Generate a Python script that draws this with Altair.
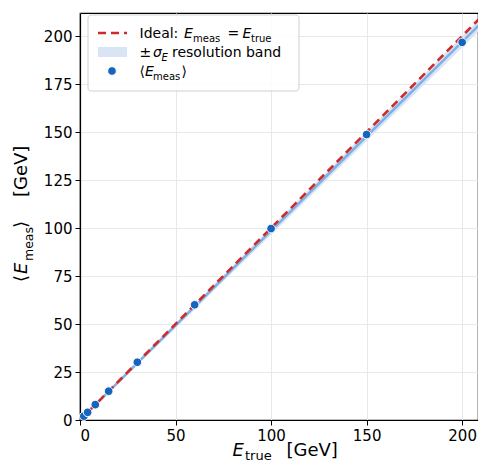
import altair as alt
import pandas as pd

# Data
e_true_pts = [2, 4, 8, 15, 30, 60, 100, 150, 200]
e_meas_pts = [2.0, 4.0, 8.0, 15.0, 30.1, 60.0, 99.7, 148.7, 196.7]

band_x = [0, 2, 4, 8, 15, 30, 60, 100, 150, 200, 212]
band_mid = [0, 1.97, 3.94, 7.88, 14.8, 29.6, 59.1, 98.5, 147.8, 197.0, 208.8]
band_lo = [0, 1.6, 3.5, 7.3, 14.0, 28.5, 57.6, 96.5, 145.3, 194.0, 205.7]
band_hi = [0, 2.35, 4.4, 8.5, 15.6, 30.7, 60.6, 100.5, 150.3, 200.0, 211.9]

ideal_x = [0, 212]
ideal_y = [0, 212]

x_ticks = [0, 50, 100, 150, 200]
y_ticks = [0, 25, 50, 75, 100, 125, 150, 175, 200]

FONT = "DejaVu Sans"
W, H = 398, 407
RED = "#d02a2a"
BAND = "#d9e5f5"
MID = "#7fb1e6"
DOT = "#1565c0"

pts = pd.DataFrame({"x": e_true_pts, "y": e_meas_pts})
band = pd.DataFrame({"x": band_x, "lo": band_lo, "hi": band_hi, "mid": band_mid})
ideal = pd.DataFrame({"x": ideal_x, "y": ideal_y})

xs = alt.Scale(domain=[0, 208.3], nice=False, zero=False)
ys = alt.Scale(domain=[0, 212], nice=False, zero=False)

xax = alt.Axis(values=x_ticks, title=None, grid=True, format="d")
yax = alt.Axis(values=y_ticks, title=None, grid=True, format="d")

band_layer = alt.Chart(band).mark_area(color=BAND, opacity=1, clip=True).encode(
    x=alt.X("x:Q", scale=xs, axis=xax),
    y=alt.Y("lo:Q", scale=ys, axis=yax),
    y2="hi:Q",
)
mid_layer = alt.Chart(band).mark_line(color=MID, strokeWidth=2.5, clip=True).encode(
    x=alt.X("x:Q", scale=xs), y=alt.Y("mid:Q", scale=ys)
)
ideal_layer = alt.Chart(ideal).mark_line(color=RED, strokeWidth=2.6, strokeDash=[8, 5], clip=True).encode(
    x=alt.X("x:Q", scale=xs), y=alt.Y("y:Q", scale=ys)
)
pt_layer = alt.Chart(pts).mark_circle(size=75, color=DOT, opacity=1, stroke="white", strokeWidth=1).encode(
    x=alt.X("x:Q", scale=xs), y=alt.Y("y:Q", scale=ys)
)

one = alt.Data(values=[{"a": 1}])


def seg(text, x, y, size, italic=False, angle=0):
    kw = dict(text=text, align="left", baseline="alphabetic", font=FONT, fontSize=size, color="black")
    if italic:
        kw["fontStyle"] = "italic"
    if angle:
        kw["angle"] = angle
    return alt.Chart(one).mark_text(**kw).encode(x=alt.value(x), y=alt.value(y))


# legend (positions in plot-area pixels)
leg = [
    alt.Chart(one).mark_rect(fill="white", stroke="#cccccc", strokeWidth=1, cornerRadius=3, opacity=0.9).encode(
        x=alt.value(8), x2=alt.value(219), y=alt.value(2), y2=alt.value(78)
    ),
    alt.Chart(one).mark_rule(color=RED, strokeWidth=2.6, strokeDash=[8, 5]).encode(
        x=alt.value(18), x2=alt.value(47), y=alt.value(20)
    ),
    alt.Chart(one).mark_rect(fill=BAND).encode(
        x=alt.value(18), x2=alt.value(47), y=alt.value(34), y2=alt.value(44)
    ),
    alt.Chart(one).mark_circle(size=75, color=DOT, opacity=1, stroke="white", strokeWidth=1).encode(
        x=alt.value(32), y=alt.value(58)
    ),
]
b1, b2, b3 = 25, 44, 63
leg += [
    seg("Ideal:", 59.5, b1, 14), seg("E", 104, b1, 14, True), seg("meas", 113, b1 + 3.5, 10),
    seg("=", 147.5, b1, 14), seg("E", 162.5, b1, 14, True), seg("true", 171, b1 + 3.5, 10),
    seg("±", 59.5, b2, 14), seg("σ", 73, b2, 14, True), seg("E", 81.5, b2 + 3.5, 10, True),
    seg("resolution band", 92, b2, 14),
    seg("⟨", 59.5, b3, 14), seg("E", 65, b3, 14, True), seg("meas", 73, b3 + 3.5, 10), seg("⟩", 101.5, b3, 14),
]

# axis titles built from segments (plot-area pixels)
tb = 443
titles = [
    seg("E", 152.5, tb, 18, True), seg("true", 165, tb + 3.5, 13), seg("[GeV]", 206.5, tb, 18),
]
tx = -53
titles += [
    seg("⟨", tx, 269, 18, angle=270), seg("E", tx, 261, 18, True, angle=270),
    seg("meas", tx + 6, 248, 12.5, angle=270), seg("⟩", tx, 215, 18, angle=270),
    seg("[GeV]", tx, 184, 18, angle=270),
]

chart = alt.layer(band_layer, mid_layer, ideal_layer, pt_layer, *leg, *titles).properties(
    width=W, height=H,
    autosize=alt.AutoSizeParams(type="none"),
    padding={"left": 72, "top": 5, "right": 0, "bottom": 45},
).configure_view(
    stroke="black", strokeWidth=1.2
).configure_axis(
    domainColor="black", domainWidth=1.2, tickColor="black", tickSize=5, tickWidth=1,
    labelFont=FONT, labelFontSize=15, labelColor="black", labelPadding=3,
    gridColor="#e8e8e8", gridWidth=1,
)

chart.save("out.html", embed_options={"renderer": "svg", "actions": False})
